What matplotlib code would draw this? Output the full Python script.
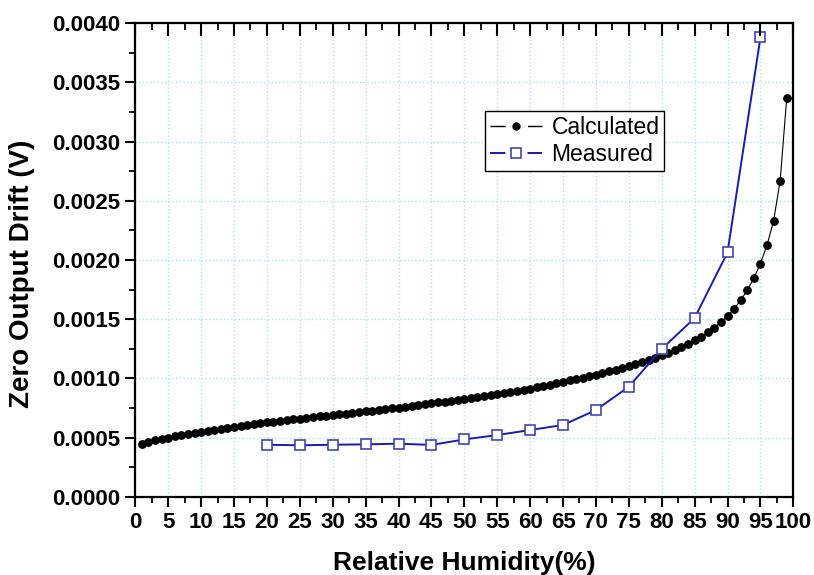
import numpy as np
import matplotlib as mpl
mpl.use('Agg')
import matplotlib.pyplot as plt
from matplotlib.ticker import MultipleLocator, FormatStrFormatter
from matplotlib.lines import Line2D

plt.rcParams['font.family'] = ['Liberation Sans', 'DejaVu Sans']

# calculated zero output drift, RH 1..99 %
rh_calc = list(range(1, 100))
drift_calc = [
    0.000445, 0.000465, 0.000480, 0.000490, 0.000500, 0.000510, 0.000520, 0.000530, 0.000540, 0.000550,
    0.000558, 0.000567, 0.000575, 0.000583, 0.000592, 0.000600, 0.000607, 0.000614, 0.000621, 0.000628,
    0.000634, 0.000640, 0.000647, 0.000653, 0.000660, 0.000666, 0.000672, 0.000678, 0.000683, 0.000689,
    0.000695, 0.000701, 0.000707, 0.000713, 0.000720, 0.000726, 0.000732, 0.000739, 0.000746, 0.000753,
    0.000760, 0.000767, 0.000774, 0.000781, 0.000789, 0.000796, 0.000803, 0.000810, 0.000818, 0.000825,
    0.000833, 0.000840, 0.000848, 0.000856, 0.000865, 0.000874, 0.000883, 0.000893, 0.000903, 0.000914,
    0.000925, 0.000936, 0.000947, 0.000959, 0.000970, 0.000982, 0.000994, 0.001006, 0.001019, 0.001032,
    0.001045, 0.001059, 0.001073, 0.001088, 0.001103, 0.001119, 0.001136, 0.001154, 0.001173, 0.001194,
    0.001216, 0.001239, 0.001264, 0.001291, 0.001320, 0.001352, 0.001388, 0.001428, 0.001474, 0.001527,
    0.001588, 0.001660, 0.001745, 0.001846, 0.001970, 0.002125, 0.002330, 0.002670, 0.003370,
]

# measured
rh_meas = [20, 25, 30, 35, 40, 45, 50, 55, 60, 65, 70, 75, 80, 85, 90, 95]
drift_meas = [0.000439, 0.000434, 0.000439, 0.000442, 0.000448, 0.000437, 0.000484, 0.000521,
              0.000563, 0.000606, 0.000732, 0.000929, 0.001248, 0.001510, 0.002064, 0.003880]

blue = '#1a1ab4'
sq_edge = '#4444b4'

fig = plt.figure(figsize=(8.14, 5.75), dpi=100)
ax = fig.add_axes([0.1662, 0.1362, 0.8084, 0.8233])

ax.plot(rh_calc, drift_calc, color='black', lw=0.8, marker='o', ms=5.3,
        markerfacecolor='black', markeredgecolor='black', zorder=3)
ax.plot(rh_meas, drift_meas, color=blue, lw=1.4, marker='s', ms=7.5,
        markerfacecolor='white', markeredgecolor=sq_edge, markeredgewidth=1.2, zorder=4)

ax.set_xlim(0, 100)
ax.set_ylim(0, 0.004)
ax.xaxis.set_major_locator(MultipleLocator(5))
ax.xaxis.set_minor_locator(MultipleLocator(2.5))
ax.yaxis.set_major_locator(MultipleLocator(0.0005))
ax.yaxis.set_minor_locator(MultipleLocator(0.00025))
ax.yaxis.set_major_formatter(FormatStrFormatter('%.4f'))

ax.grid(True, which='major', color='#a8e6ec', linestyle=':', linewidth=1.0)
ax.set_axisbelow(True)

for s in ax.spines.values():
    s.set_linewidth(1.6)

ax.tick_params(axis='both', which='major', direction='out', length=7, width=1.5,
               labelsize=16, pad=4)
ax.tick_params(axis='both', which='minor', direction='out', length=4, width=1.3)
for lab in ax.get_xticklabels() + ax.get_yticklabels():
    lab.set_fontweight('bold')

# top axis: inward ticks, no labels
top = ax.twiny()
top.set_xlim(ax.get_xlim())
top.xaxis.set_major_locator(MultipleLocator(5))
top.xaxis.set_minor_locator(MultipleLocator(2.5))
top.tick_params(axis='x', which='major', direction='in', length=9, width=1.5,
                labeltop=False, top=True, bottom=False)
top.tick_params(axis='x', which='minor', direction='in', length=5, width=1.3,
                top=True, bottom=False)
for s in top.spines.values():
    s.set_visible(False)

ax.set_xlabel('Relative Humidity(%)', fontsize=19, fontweight='bold', labelpad=13)
ax.set_ylabel('Zero Output Drift (V)', fontsize=20, fontweight='bold')
ax.yaxis.set_label_coords(-0.153, 0.47)

# legend handles in the Origin style: segment, marker, segment
h_calc = Line2D([], [], color='black', lw=1.0, linestyle=(0, (11, 16)),
                marker='o', ms=5, markerfacecolor='black', markeredgecolor='black')
h_meas = Line2D([], [], color=blue, lw=1.4, linestyle=(0, (7.9, 11.4)),
                marker='s', ms=7, markerfacecolor='white', markeredgecolor=sq_edge,
                markeredgewidth=1.2)
leg = ax.legend([h_calc, h_meas], ['Calculated', 'Measured'], loc='upper left',
                bbox_to_anchor=(0.5315, 0.814), fontsize=16.5, numpoints=1,
                frameon=True, fancybox=False, edgecolor='black', framealpha=1,
                handlelength=2.3, borderpad=0.2, labelspacing=0.18,
                handletextpad=0.4, borderaxespad=0)
leg.get_frame().set_linewidth(1.0)
leg.set_zorder(10)

plt.savefig('out.png', dpi=100)
